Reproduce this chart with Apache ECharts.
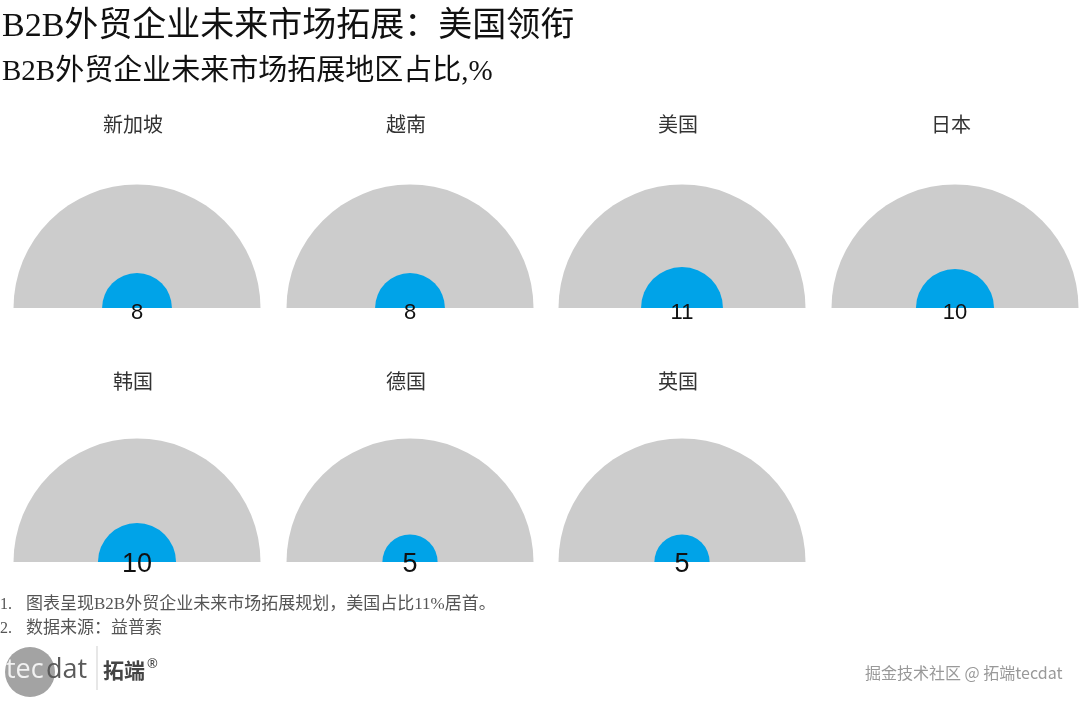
<!DOCTYPE html>
<html><head><meta charset="utf-8">
<script src="https://cdn.jsdelivr.net/npm/echarts@6/dist/echarts.min.js"></script>
<style>html,body{margin:0;padding:0;background:#fff}#c{width:1080px;height:702px}</style>
</head><body><div id="c"></div>
<script>
const categories = ['新加坡','越南','美国','日本','韩国','德国','英国'];
const values = [8, 8, 11, 10, 10, 5, 5];
const totalValue = 100;
const titleText = 'B2B外贸企业未来市场拓展：美国领衔';
const subtitleText = 'B2B外贸企业未来市场拓展地区占比,%';
const noteNums = ['1.', '2.'];
const notes = ['图表呈现B2B外贸企业未来市场拓展规划，美国占比11%居首。', '数据来源：益普索'];
const watermark = '掘金技术社区 @ 拓端tecdat';

const serif = '"Liberation Serif","Noto Sans CJK SC",serif';
const colX = [137, 410, 682, 955];
const rowY = [308, 562];
const R = 123.5;

const series = [];
const titles = [
  {text: titleText, left: -3, top: 5, textStyle: {fontFamily: serif, fontSize: 34, fontWeight: 'normal', color: '#111'}},
  {text: subtitleText, left: -3, top: 53, textStyle: {fontFamily: serif, fontSize: 29, fontWeight: 'normal', color: '#111'}}
];
categories.forEach((name, i) => {
  const row = Math.floor(i / 4);
  const cx = colX[i % 4], cy = rowY[row];
  titles.push({text: name, left: cx - 9, top: cy - 196 + row * 3, textAlign: 'center',
    textStyle: {fontFamily: serif, fontSize: 20, fontWeight: 'normal', color: '#333'}});
  series.push({
    type: 'pie', center: [cx, cy], radius: [0, R], startAngle: 180, endAngle: 0,
    silent: true, label: {show: false}, labelLine: {show: false},
    itemStyle: {color: '#cccccc'}, data: [{value: totalValue, name: name + '总'}]
  });
  series.push({
    type: 'pie', center: [cx, cy], radius: [0, R * Math.sqrt(values[i] / totalValue)],
    startAngle: 180, endAngle: 0, silent: true, labelLine: {show: false},
    itemStyle: {color: '#00a3e8'},
    label: {show: true, position: 'center', formatter: '{c}', color: '#111',
      fontFamily: '"Liberation Sans",Arial,sans-serif', fontSize: row === 0 ? 22 : 27,
      offset: [0, row === 0 ? 5 : 3]},
    data: [{value: values[i], name: name}]
  });
});

const chart = echarts.init(document.getElementById('c'), null, {renderer: 'canvas'});
chart.setOption({
  animation: false,
  title: titles,
  series: series,
  graphic: [
    {type: 'text', style: {x: 0, y: 605, verticalAlign: 'middle', text: noteNums[0], font: '16px ' + serif, fill: '#555'}},
    {type: 'text', style: {x: 26, y: 605, verticalAlign: 'middle', text: notes[0], font: '17px ' + serif, fill: '#555'}},
    {type: 'text', style: {x: 0, y: 629, verticalAlign: 'middle', text: noteNums[1], font: '16px ' + serif, fill: '#555'}},
    {type: 'text', style: {x: 26, y: 629, verticalAlign: 'middle', text: notes[1], font: '17px ' + serif, fill: '#555'}},
    {type: 'circle', shape: {cx: 30, cy: 672, r: 25}, style: {fill: '#a3a3a3'}},
    {type: 'text', style: {x: 6, y: 670, verticalAlign: 'middle', text: 'tec', font: '500 27px "Open Sans","Noto Sans",sans-serif', fill: '#f2f2f2'}},
    {type: 'text', style: {x: 46, y: 670, verticalAlign: 'middle', text: 'dat', font: '500 27px "Open Sans","Noto Sans",sans-serif', fill: '#5a5a5a'}},
    {type: 'line', shape: {x1: 97, y1: 646, x2: 97, y2: 690}, style: {stroke: '#cfcfcf', lineWidth: 1}},
    {type: 'text', style: {x: 103, y: 670, verticalAlign: 'middle', text: '拓端', font: 'bold 21px "Noto Sans CJK SC",sans-serif', fill: '#444'}},
    {type: 'text', style: {x: 147, y: 664, verticalAlign: 'middle', text: '®', font: '13px "Noto Sans",sans-serif', fill: '#444'}},
    {type: 'text', left: 865, top: 665, style: {text: watermark, font: '16px "Noto Sans CJK SC",sans-serif', fill: '#999'}}
  ]
});
</script></body></html>
